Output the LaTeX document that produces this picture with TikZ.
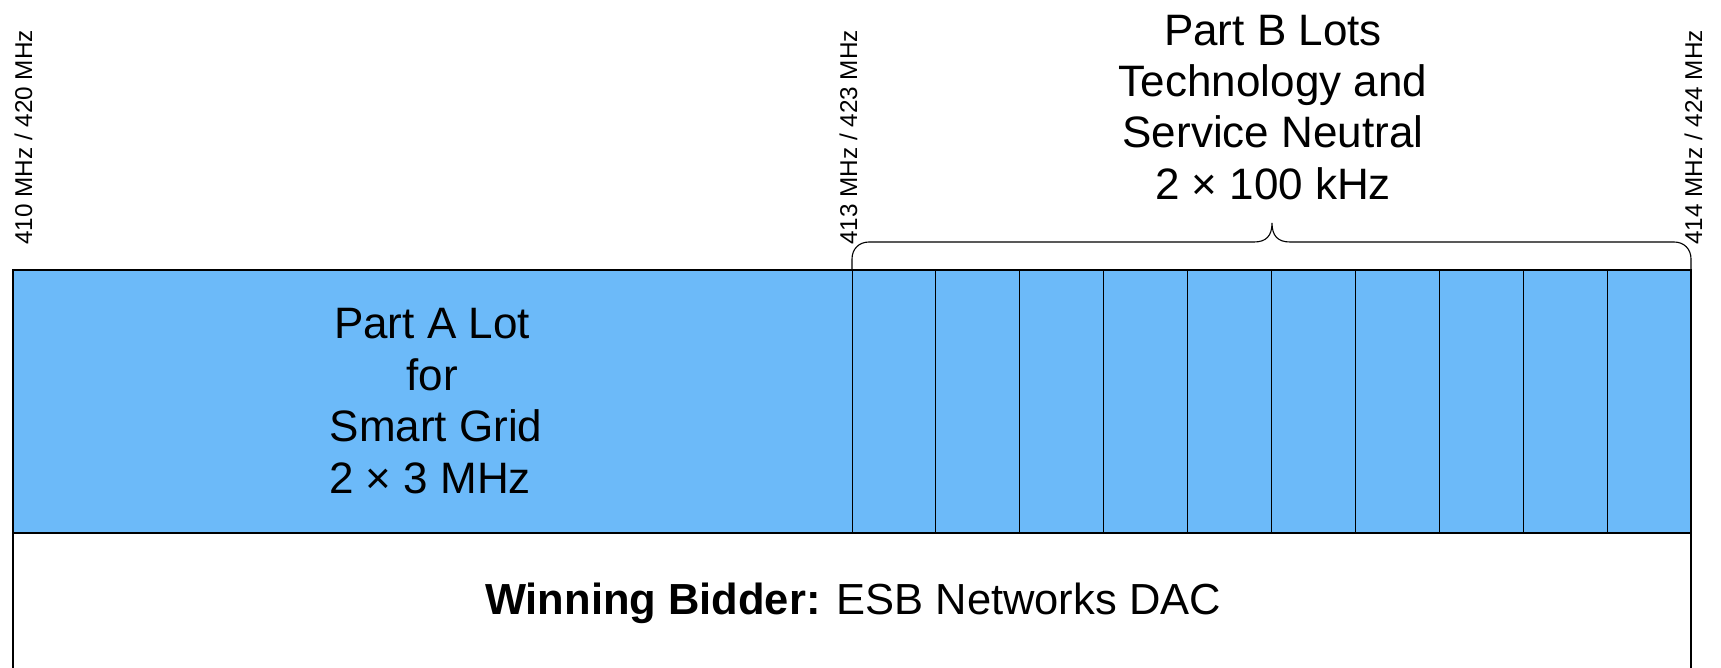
\documentclass[tikz,border=0pt]{standalone}
\usepackage{fontspec}
\setmainfont{Liberation Sans}
\definecolor{bandblue}{RGB}{108,186,249}
\begin{document}
\begin{tikzpicture}[x=1pt,y=-1pt,
  bigtext/.style={font=\fontsize{44}{51}\selectfont, anchor=base, inner sep=0pt},
  freq/.style={font=\fontsize{24.3}{28}\selectfont, rotate=90, anchor=base west, inner sep=0pt},
  outer/.style={line width=1.3pt, draw=black},
  divider/.style={line width=0.9pt, draw=black},
  bracestyle/.style={line width=1.1pt, draw=black}]
\useasboundingbox (0,0) rectangle (1721,668);
% band
\fill[bandblue] (13,270) rectangle (1691,533);
\foreach \i in {0,...,9} {
  \draw[divider] ({852+\i*83.9},270) -- ({852+\i*83.9},533);
}
\draw[outer] (13,690) -- (13,270) -- (1691,270) -- (1691,690);
\draw[outer] (13,533) -- (1691,533);
% brace
\coordinate (bl) at (852,270);
\coordinate (br) at (1691,270);
\coordinate (bm) at (1272,223);
\draw[bracestyle] (bl) -- (852,259) .. controls (852,249) and (859,242) .. (869,242)
  -- (1254,242) .. controls (1266,242) and (1272,236) .. (bm)
  .. controls (1272,236) and (1278,242) .. (1290,242)
  -- (1674,242) .. controls (1684,242) and (1691,249) .. (1691,259) -- (br);
% frequency labels
\node[freq] (f1) at (32,245) {410 MHz / 420 MHz};
\node[freq] (f2) at (857,245) {413 MHz / 423 MHz};
\node[freq] (f3) at (1702,245) {414 MHz / 424 MHz};
% part B text
\node[bigtext] (b1) at (1273,46) {Part B Lots};
\node[bigtext] (b2) at (1273,97) {Technology and};
\node[bigtext] (b3) at (1273,148) {Service Neutral};
\node[bigtext] (b4) at (1273,200) {2 × 100 kHz};
% part A text
\node[bigtext] (a1) at (432,338) {Part A Lot};
\node[bigtext] (a2) at (432,390) {for};
\node[bigtext] (a3) at (436,441) {Smart Grid};
\node[bigtext] (a4) at (430,493) {2 × 3 MHz};
% winner
\node[bigtext, font=\fontsize{43.5}{51}\selectfont] (w) at (853,614) {\textbf{Winning Bidder:} ESB Networks DAC};
\end{tikzpicture}
\end{document}
